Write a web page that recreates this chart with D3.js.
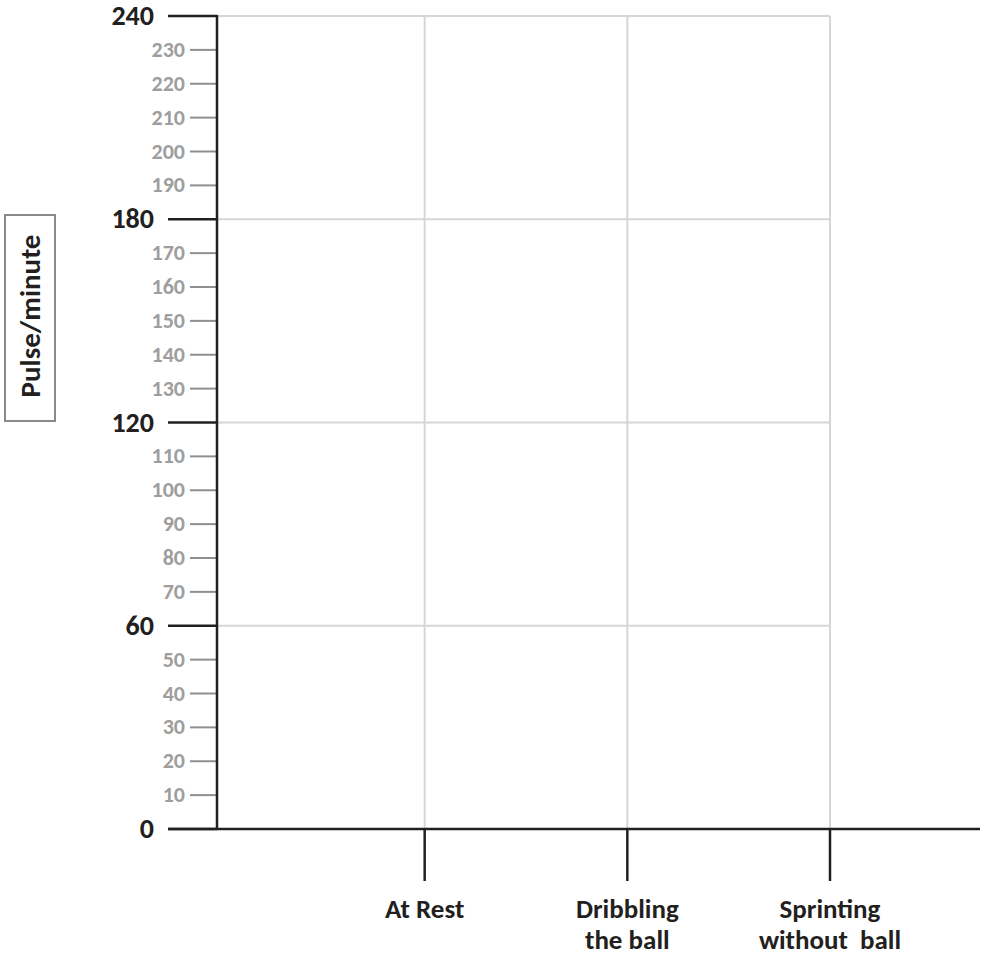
<!DOCTYPE html>
<html><head><meta charset="utf-8">
<script src="https://cdn.jsdelivr.net/npm/d3@7"></script>
<style>body{margin:0;background:#fff}svg{display:block}</style>
</head><body>
<script>
const categories = ["At Rest", "Dribbling\nthe ball", "Sprinting\nwithout  ball"];
const majorTicks = [0, 60, 120, 180, 240];
const minorTicks = [10,20,30,40,50,70,80,90,100,110,130,140,150,160,170,190,200,210,220,230];
const yLabel = "Pulse/minute";

const W = 992, H = 957;
const svg = d3.select("body").append("svg").attr("width", W).attr("height", H);
const font = "Carlito, 'Open Sans', Lato, sans-serif";

const y = d3.scaleLinear().domain([0, 240]).range([829, 16]);
const x = d3.scaleLinear().domain([0, categories.length]).range([222, 830]);
const x0 = 217;
const ink = "#231f20", grey = "#9e9e9e", grid = "#d6d6d6";

// grid
svg.append("g").selectAll("line").data(majorTicks.filter(d => d > 0)).join("line")
  .attr("x1", x0).attr("x2", x(categories.length)).attr("y1", d => y(d)).attr("y2", d => y(d))
  .attr("stroke", grid).attr("stroke-width", 2);
svg.append("g").selectAll("line").data(d3.range(1, categories.length + 1)).join("line")
  .attr("x1", d => x(d)).attr("x2", d => x(d)).attr("y1", y(240)).attr("y2", y(0))
  .attr("stroke", grid).attr("stroke-width", 2);

// minor ticks
svg.append("g").selectAll("line").data(minorTicks).join("line")
  .attr("x1", 190).attr("x2", x0).attr("y1", d => y(d)).attr("y2", d => y(d))
  .attr("stroke", "#8f8f8f").attr("stroke-width", 2);
svg.append("g").selectAll("text").data(minorTicks).join("text")
  .attr("x", 185).attr("y", d => y(d)).attr("dy", "0.32em").attr("text-anchor", "end")
  .attr("font-family", font).attr("font-weight", "bold").attr("font-size", 22).attr("fill", grey)
  .text(d => d);

// major ticks
svg.append("g").selectAll("line").data(majorTicks).join("line")
  .attr("x1", 168).attr("x2", x0).attr("y1", d => y(d)).attr("y2", d => y(d))
  .attr("stroke", ink).attr("stroke-width", 2.5);
svg.append("g").selectAll("text").data(majorTicks).join("text")
  .attr("x", 154).attr("y", d => y(d)).attr("dy", "0.33em").attr("text-anchor", "end")
  .attr("font-family", font).attr("font-weight", "bold").attr("font-size", 28).attr("fill", ink)
  .text(d => d);

// y axis line
svg.append("line").attr("x1", x0).attr("x2", x0).attr("y1", y(240) - 1).attr("y2", y(0) + 1)
  .attr("stroke", ink).attr("stroke-width", 2.5);
// x axis line
svg.append("line").attr("x1", 168).attr("x2", 980).attr("y1", y(0)).attr("y2", y(0))
  .attr("stroke", ink).attr("stroke-width", 2.5);

// category ticks & labels
const cg = svg.append("g").selectAll("g").data(categories).join("g")
  .attr("transform", (d, i) => `translate(${x(i + 1)},0)`);
cg.append("line").attr("y1", y(0)).attr("y2", 881).attr("stroke", ink).attr("stroke-width", 2.5);
cg.append("text").attr("text-anchor", "middle")
  .attr("font-family", font).attr("font-weight", "bold").attr("font-size", 27).attr("fill", ink)
  .selectAll("tspan").data(d => d.split("\n")).join("tspan")
  .attr("x", 0).attr("y", (d, i) => 918 + i * 31).attr("xml:space", "preserve").text(d => d);

// y label box
svg.append("rect").attr("x", 5).attr("y", 215).attr("width", 50).attr("height", 206)
  .attr("fill", "none").attr("stroke", "#8a8a8a").attr("stroke-width", 2);
svg.append("text").attr("transform", "translate(30,316) rotate(-90)")
  .attr("text-anchor", "middle").attr("dy", "0.33em")
  .attr("font-family", font).attr("font-weight", "bold").attr("font-size", 29).attr("fill", ink)
  .text(yLabel);
</script>
</body></html>
